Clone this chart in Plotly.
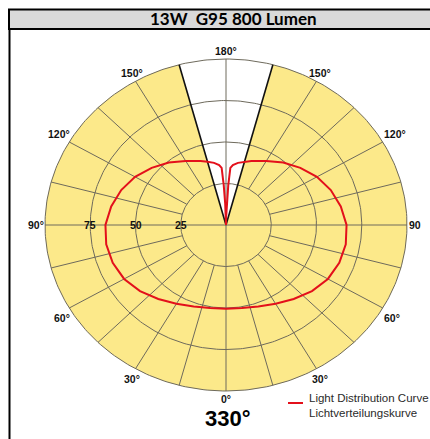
import numpy as np
import plotly.graph_objects as go

# ---------------- data ----------------
TITLE = "13W  G95 800 Lumen"
CENTER_LABEL = "330°"
LEGEND_LINES = ["Light Distribution Curve", "Lichtverteilungskurve"]

# light distribution curve (symmetric), angle from nadir (0° = down) in degrees
CURVE_ANGLES = [0, 10, 20, 30, 40, 50, 60, 70, 80, 90, 100, 110, 120, 130, 140,
                150, 160, 165, 170, 174, 176, 177, 178, 179, 180]
CURVE_VALUES = [50.5, 50.8, 52.2, 54.8, 58.2, 62.0, 65.0, 66.6, 67.2, 66.6, 64.4,
                61.6, 58.0, 53.6, 49.2, 44.5, 41.0, 39.5, 38.0, 36.3, 34.5, 24.0,
                13.0, 5.0, 0.0]

RING_VALUES = [25, 50, 75, 100]
RING_LABELS = ["25", "50", "75"]
SPOKE_ANGLES = [15, 30, 45, 60, 75, 105, 120, 135, 150]
WEDGE_ANGLE = 165          # beam edge (shaded area from -165° to 165° via 0°)
ANGLE_TICKS = [0, 30, 60, 90, 120, 150, 180, -30, -60, -90, -120, -150]
ANGLE_TEXTS = ["0°", "30°", "60°", "90", "120°", "150°", "180°",
               "30°", "60°", "90°", "120°", "150°"]

# ---------------- geometry / layout ----------------
W, H = 430, 439
CX, CY = 226, 225          # pixel position of the pole
SX, SY = 1.81, 1.66        # pixels per unit along x / y
RMAX = 100

YELLOW = "#fce98a"
GRID = "#6e6a5c"
RED = "#e3101b"


def xy(theta_deg, r):
    t = np.radians(np.asarray(theta_deg, dtype=float))
    r = np.asarray(r, dtype=float)
    return r * np.sin(t), -r * np.cos(t)


fig = go.Figure()

# shaded region
th = np.linspace(-WEDGE_ANGLE, WEDGE_ANGLE, 331)
fx, fy = xy(th, RMAX)
fx = np.concatenate([[0], fx, [0]])
fy = np.concatenate([[0], fy, [0]])
fig.add_trace(go.Scatter(x=fx, y=fy, fill="toself", fillcolor=YELLOW, mode="none",
                         hoverinfo="skip", showlegend=False))

# rings
rx, ry = [], []
full = np.linspace(0, 360, 361)
for rv in RING_VALUES:
    a, b = xy(full, rv)
    rx += list(a) + [None]
    ry += list(b) + [None]
fig.add_trace(go.Scatter(x=rx, y=ry, mode="lines", line=dict(color=GRID, width=1),
                         hoverinfo="skip", showlegend=False))

# spokes (from inner ring outwards)
sx_, sy_ = [], []
for ang in SPOKE_ANGLES:
    for s in (1, -1):
        a, b = xy([s * ang, s * ang], [RING_VALUES[0], RMAX])
        sx_ += list(a) + [None]
        sy_ += list(b) + [None]
# main axes through the pole
for ang in (0, 90):
    a, b = xy([ang, ang + 180], [RMAX, RMAX])
    sx_ += list(a) + [None]
    sy_ += list(b) + [None]
fig.add_trace(go.Scatter(x=sx_, y=sy_, mode="lines", line=dict(color=GRID, width=1),
                         hoverinfo="skip", showlegend=False))

# beam edges
wx, wy = [], []
for s in (1, -1):
    a, b = xy([s * WEDGE_ANGLE, s * WEDGE_ANGLE], [0, RMAX])
    wx += list(a) + [None]
    wy += list(b) + [None]
fig.add_trace(go.Scatter(x=wx, y=wy, mode="lines", line=dict(color="#111111", width=1.6),
                         hoverinfo="skip", showlegend=False))

# light distribution curve (right half then mirrored left half)
ang = np.array(CURVE_ANGLES, dtype=float)
val = np.array(CURVE_VALUES, dtype=float)
all_ang = np.concatenate([ang, -ang[::-1]])
all_val = np.concatenate([val, val[::-1]])
cx_, cy_ = xy(all_ang, all_val)
fig.add_trace(go.Scatter(x=cx_, y=cy_, mode="lines", line=dict(color=RED, width=2),
                         hoverinfo="skip", showlegend=False,
                         name=LEGEND_LINES[0]))

annots = []
LBL_FONT = dict(family="Liberation Sans, Arial, sans-serif", size=10.5, color="#111111")

# radial value labels on the left horizontal axis
for rv, txt in zip(RING_VALUES, RING_LABELS):
    a, b = xy(-90, rv)
    annots.append(dict(x=float(a), y=float(b), text=f"<b>{txt}</b>", showarrow=False,
                       xanchor="center", yanchor="middle", font=LBL_FONT))

# angle labels
for angv, txt in zip(ANGLE_TICKS, ANGLE_TEXTS):
    a, b = xy(angv, RMAX)
    aa = abs(angv)
    side = 1 if angv > 0 else -1
    xs, ys = 0, 0
    if aa == 0:
        xa, ya = "center", "top"
    elif aa == 180:
        xa, ya = "center", "bottom"
    elif aa == 90:
        xa, ya = ("left" if side > 0 else "right"), "middle"
        xs = 1 if side < 0 else 0
    elif aa in (60, 120):
        xa = "left" if side > 0 else "right"
        ya = "top" if aa == 60 else "bottom"
        xs = -1 if side > 0 else 3
        ys = -2 if aa == 60 else 0
    else:  # 30, 150
        xa = "center"
        ya = "top" if aa == 30 else "bottom"
        xs = 3 if side > 0 else -4
        ys = -2 if aa == 30 else 0
    annots.append(dict(x=float(a), y=float(b), text=f"<b>{txt}</b>", showarrow=False,
                       xanchor=xa, yanchor=ya, xshift=xs, yshift=ys, font=LBL_FONT))

# big beam-angle label
annots.append(dict(x=228 / W, y=1 - 418 / H, xref="paper", yref="paper",
                   text=f"<b>{CENTER_LABEL}</b>", showarrow=False,
                   xanchor="center", yanchor="middle",
                   font=dict(family="Liberation Sans, Arial, sans-serif", size=22,
                             color="#000000")))

# legend text
for i, line in enumerate(LEGEND_LINES):
    annots.append(dict(x=307 / W, y=1 - (398 + 15 * i) / H, xref="paper", yref="paper",
                       text=line, showarrow=False, xanchor="left", yanchor="middle",
                       font=dict(family="Liberation Sans, Arial, sans-serif", size=11.5,
                                 color="#2a2a2a")))

# title
annots.append(dict(x=233 / W, y=1 - 19 / H, xref="paper", yref="paper",
                   text=f"<b>{TITLE}</b>", showarrow=False, xanchor="center",
                   yanchor="middle",
                   font=dict(family="Lato, Open Sans, sans-serif", size=17,
                             color="#000000")))

shapes = [
    # title band
    dict(type="rect", xref="paper", yref="paper", x0=9 / W, x1=1.05,
         y0=1 - 29 / H, y1=1 - 9.5 / H, fillcolor="#d9d9d9",
         line=dict(color="#000000", width=2), layer="below"),
    # left frame border
    dict(type="line", xref="paper", yref="paper", x0=9.5 / W, x1=9.5 / W,
         y0=-0.01, y1=1 - 29 / H, line=dict(color="#000000", width=2)),
    # legend swatch
    dict(type="line", xref="paper", yref="paper", x0=288 / W, x1=303 / W,
         y0=1 - 403 / H, y1=1 - 403 / H, line=dict(color=RED, width=2)),
]

fig.update_layout(
    width=W, height=H, autosize=False,
    margin=dict(l=0, r=0, t=0, b=0, pad=0),
    paper_bgcolor="white", plot_bgcolor="white",
    xaxis=dict(range=[(0 - CX) / SX, (W - CX) / SX], visible=False, fixedrange=True,
               domain=[0, 1]),
    yaxis=dict(range=[(CY - H) / SY, CY / SY], visible=False, fixedrange=True,
               domain=[0, 1]),
    annotations=annots, shapes=shapes, showlegend=False,
)

fig.write_html("out.html", config={"displayModeBar": False},
               post_script="document.body.style.margin='0';")
